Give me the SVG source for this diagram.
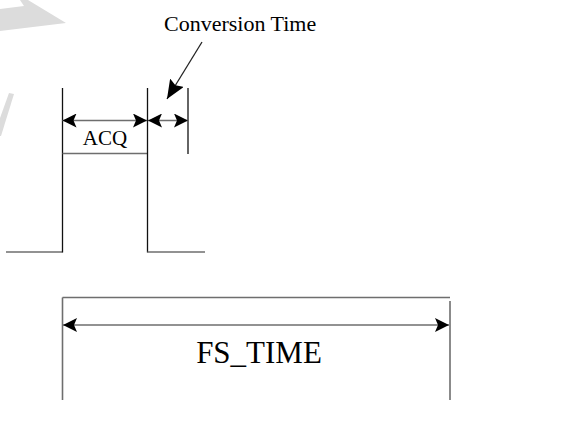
<svg xmlns="http://www.w3.org/2000/svg" width="577" height="428" viewBox="0 0 577 428">
<style>
.v{stroke:#111;stroke-width:1.3;fill:none}
.h{stroke:#6e6e6e;stroke-width:1.6;fill:none}
.arr{stroke:#6e6e6e;stroke-width:1.6;fill:none;marker-start:url(#ah);marker-end:url(#ah)}
.t{font-family:"Liberation Serif","Times New Roman",serif;fill:#000}
.wm{fill:#dcdcdc}
</style>
<defs>
<marker id="ah" viewBox="0 -7 14 14" refX="14" refY="0" markerWidth="14" markerHeight="14" markerUnits="userSpaceOnUse" orient="auto-start-reverse">
<path d="M0,-7 L14,0 L0,7 L3,0 z" fill="#000"/>
</marker>
<marker id="ahBig" viewBox="0 -8 19 16" refX="19" refY="0" markerWidth="19" markerHeight="16" markerUnits="userSpaceOnUse" orient="auto">
<path d="M0,-8 L19,0 L0,8 L3,0 z" fill="#000"/>
</marker>
</defs>
<g id="watermark">
<polygon class="wm" points="0,9 24,6 20,0 28,0 66,23 0,31"/>
<polygon class="wm" points="9,93 14,94 1,136 0,136 0,118"/>
</g>
<g id="pulse">
<line class="h" x1="6" y1="252" x2="62.5" y2="252"/>
<line class="v" x1="62.5" y1="88" x2="62.5" y2="252.5"/>
<line class="h" x1="62.5" y1="153.5" x2="147.5" y2="153.5"/>
<line class="v" x1="147.5" y1="88" x2="147.5" y2="252.5"/>
<line class="h" x1="147.5" y1="252" x2="205" y2="252"/>
<line class="v" x1="188" y1="88" x2="188" y2="154"/>
</g>
<g id="acq">
<text class="t" x="105" y="145" font-size="21" text-anchor="middle">ACQ</text>
</g>
<g id="conversion">
<text class="t" x="164" y="31" font-size="22">Conversion Time</text>
</g>
<g id="fs">
<line class="h" x1="62.5" y1="297.5" x2="450" y2="297.5"/>
<line class="h" x1="62.5" y1="297.5" x2="62.5" y2="400"/>
<line class="h" x1="450" y1="301" x2="450" y2="400"/>
<text class="t" x="259" y="363" font-size="31" text-anchor="middle">FS_TIME</text>
</g>
<g id="connectors">
<line class="arr" x1="62.5" y1="120.5" x2="147" y2="120.5"/>
<line class="arr" x1="148" y1="120.5" x2="188" y2="120.5"/>
<line class="arr" x1="63" y1="325" x2="449" y2="325"/>
<line x1="202" y1="42" x2="167" y2="99" stroke="#222" stroke-width="1.3" marker-end="url(#ahBig)"/>
</g>
</svg>
